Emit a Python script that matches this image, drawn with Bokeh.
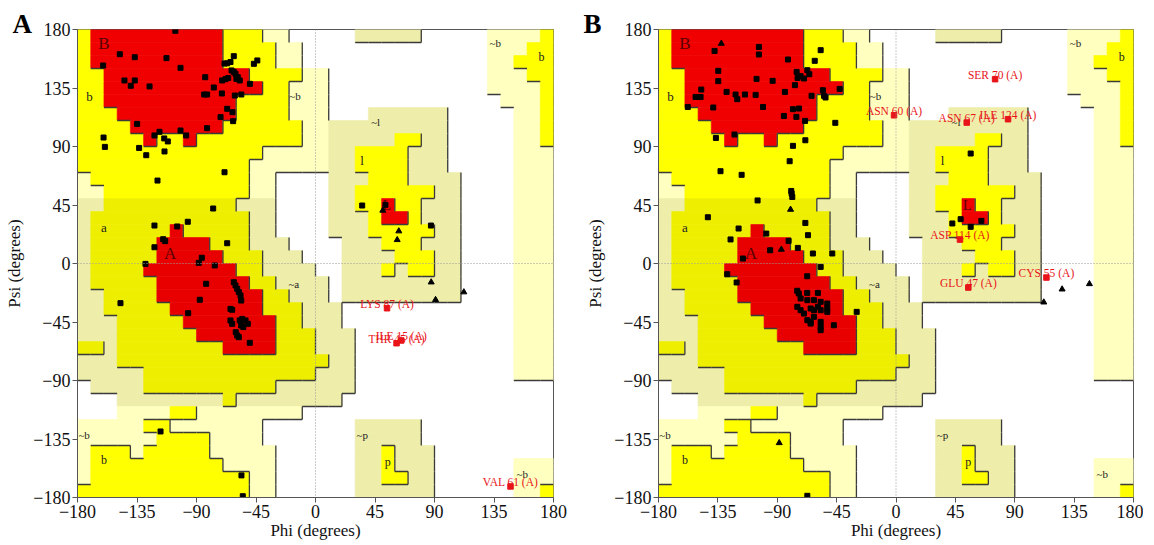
import math
from bokeh.plotting import figure
from bokeh.layouts import row
from bokeh.models import Range1d, FixedTicker, Span, ColumnDataSource
from bokeh.core.properties import value
from bokeh.embed import file_html
from bokeh.resources import INLINE

# ---------------- data ----------------
AXIS_TICKS = [-180, -135, -90, -45, 0, 45, 90, 135, 180]

# PROCHECK region map, 10-degree cells; rows from psi 180 down to -180, columns phi -180 .. 180
REGION_MAP = [
    "yRRRRRRRRRRyyypp.....qqqqq.....ppppy",
    "yRRRRRRRRRRyyyypp..............pppyy",
    "yRRRRRRRRRRyyyypp..............ppyyy",
    "yyRRRRRRRRRRRyyyypp............pppyy",
    "yyRRRRRRRRRRRRyyppp............ppppy",
    "yyRRRRRRRRRRyyyyppp.............pppy",
    "yyyRRRRRRRRRyyyyppp...qqqqqq.....ppy",
    "yyyyRRRRRRRyyyyyyppqqqqqqqqq.....ppy",
    "yyyyyRyyRyyyyyyyyppqqqqqyyqq.....ppy",
    "yyyyyyyyyyyyyypppppqqyyyyqqq.....ppp",
    "yyyyyyyyyyyyyppppppqqyyyyqqq.....ppp",
    "pyyyyyyyyyyyypp....qqqyyyqqqq....ppp",
    "ppyyyyyyyyyyypp....qqyyyyyyqq....ppp",
    "qqzzzzzzzzzzqqq....qqyyRyyqqq....ppp",
    "qzzzzzzzzzzzzqq....qqqyRRyqqq....ppp",
    "qzzzzzzSzzzzzqq....qqqyyyyyqq....ppp",
    "qzzzzzSSSSzzzqqq....qqqyyyqqq....ppp",
    "qzzzzzSSSSSzzzqqq...qqqqyyyqq....ppp",
    "qzzzzSSSSSSSzzqqqq..qqqyqyyqq....ppp",
    "qzzzzzSSSSSSSzzqqqq.qqqqqqqqq....ppp",
    "qqzzzzSSSSSSSSzzqqq.qqqqqqqqq....ppp",
    "qqzzzzzSSSSSSSzzzqqq.............ppp",
    "qqqzzzzzSSSSSSSzzqqq.............ppp",
    "qqqzzzzzzSSSSSSzzzqqq............ppp",
    "zzqzzzzzzzzSSSSzzzqqq............ppp",
    "qqqzzzzzzzzzzzzzzzzqq............ppp",
    "qqqqqzzzzzzzzzzzzzqqq............ppp",
    ".qqqqzzzzzzzzzzqqqqqq...............",
    "...qqqqqqqqzqqqqqqqq................",
    "...ppppyypppppppp...................",
    "pppppyyppppppp.......qqqqq..........",
    "ppppppyyyypppp.......qqqqq..........",
    "pyyypyyyyyppppp......qqyqqq.........",
    "pyyyyyyyyyypppp......qqyqqq......ppp",
    "pyyyyyyyyyyyypp......qqyyqq......ppp",
    "yyyyyyyyyyyyypp......qqqqqq......ppy",
]
REGION_COLORS = {"p": "#FFFFC0", "q": "#EEEEAA", "y": "#FFFF00", "z": "#EEEE00",
                 "R": "#F00000", "S": "#E80000"}
REGION_LEVEL = {".": 0, "p": 1, "q": 1, "y": 2, "z": 2, "R": 3, "S": 3}

REGION_LABELS = ["B", "b", "~b", "~b", "b", "~l", "l", "L", "a", "A", "~a", "~b", "b", "~p", "p", "~b"]
REGION_LABEL_PHI = [-160, -171, -15.5, 136, 171, 45.5, 35.3, 54, -160, -110, -16.4, -175, -160, 35.3, 54.7, 156.3]
REGION_LABEL_PSI = [169, 128.5, 129, 169.7, 159, 108.8, 79.2, 45, 28, 7.5, -16.1, -131.8, -151.5, -132.3, -152.8, -161.8]
REGION_LABEL_SIZE = ["17px", "13px", "11px", "11px", "12px", "11px", "13px", "14px", "13px", "17px",
                     "11px", "11px", "12px", "11px", "12px", "11px"]
REGION_LABEL_COLOR = ["#5a0000", "#222222", "#222222", "#222222", "#222222", "#222222", "#222222", "#5a0000",
                      "#222222", "#5a0000", "#222222", "#222222", "#222222", "#222222", "#222222", "#222222"]

# Panel A residues
A_RES_PHI = [-106, -160.6, -148, -136.7, -112.7, -102.1, -144.5, -136.7, -139.7, -125.5, -83.4, -76.9, -84.2,
             -82, -70.8, -70.6, -68.1, -66, -68.8, -66.8, -64.3, -61.8, -63.5, -61.8, -60.5, -58.8, -59.8,
             -57.3, -61, -56.1, -49.6, -46.6, -44, -66.8, -62.8, -71.8, -62.3, -134.9, -82, -102.1, -118,
             -121.8, -114.4, -111.7, -97.8, -160.3, -159.3, -133.4, -128, -114.2, -68.8, -119.5, -77.4,
             -121.8, -104.6, -96.6, -121.8, -115.2, -113.7, -66.8, -86, -88.3, -128.6, -76.2, -82.7, -61.8,
             -60.5, -59.2, -58, -56.7, -56.2, -87.5, -147.5, -64.3, -63, -96.3, -64.3, -63, -57.3, -56.2,
             -55.4, -52.9, -51.2, -54.6, -60.3, -59.2, -58, -49.7, -117.2, -56, -55, 35.3, 87.3, 52.9]
A_RES_PSI = [179, 152.3, 161, 158.7, 158, 150.5, 140.8, 140.8, 136.7, 136.2, 143.3, 135.4, 130,
             130, 130.8, 140.8, 141.8, 142.6, 153.8, 154, 155, 159.5, 148.5, 147.4, 145.9, 143.3, 142,
             140.8, 129.2, 130, 138.2, 153.6, 156.2, 119, 116.4, 112.6, 109.5, 107.4, 104.1, 102.3, 101.3,
             98.5, 96.2, 93.9, 98.5, 96.9, 89.7, 88.9, 83.3, 86.2, 70.2, 63.8, 42.3,
             29.2, 28.5, 32.1, 12.5, 18.7, 17.2, 15.6, 4.4, 0.5, -0.3, -1.5, -15.6, -14.4,
             -16.9, -19.5, -22, -24.6, -28.5, -27.9, -30.5, -34.9, -35.6, -38.2, -43.8, -46.4, -43.8, -47.7,
             -42.6, -43.8, -46.4, -48.9, -52.8, -55.4, -56.7, -61, -129.2, -163, -179, 44.6, 29.2, 45.1]
A_GLY_PHI = [50.9, 63, 61.8, 87.5, 112.2, 90.8]
A_GLY_PSI = [40.8, 24.9, 18.2, -14.4, -22, -27.9]
A_OUT_NAMES = ["LYS 87 (A)", "THR 45 (A)", "ILE 15 (A)", "VAL 61 (A)"]
A_OUT_PHI = [54.1, 61.3, 64.8, 147.5]
A_OUT_PSI = [-34.4, -61.3, -59.2, -171.5]

# Panel B residues
B_RES_PHI = [-137.5, -103.9, -103.9, -81.9, -57.1, -61.6, -134.7, -134.7, -105.7, -93.5,
             -75.3, -72.3, -67.2, -65.7, -69.7, -74.6,
             -147.6, -151.9, -148.1, -157.8, -128.4, -121.6, -120.3, -114.5, -106.4, -100.8, -138.5, -84.2,
             -76.6, -64, -55.4, -54.6, -53.4, -42.7,
             -85, -78.1, -73.5, -75.5, -68.9, -46, -136.5, -122.4, -78.1, -68.7, -80.6, -133, -117, -79.4,
             -79.1, -78.6, -104.9, -142.6, -68.7, -119.3, -98.3, -66.7, -125.4, -81.4, -74.4, -95.4, -63,
             -48.3, -116, -57.1, -127.9, -120.8, -67.3, -74.9, -73.7, -67.3, -59.2,
             -72.3, -67.2, -62.2, -57.1, -52.1, -74.8, -72.3, -69.8, -64.7, -62.2, -59.2, -57.1, -52.1,
             -67.2, -64.7, -62.2, -57.1, -64.7, -57.1, -57.1, -52.1,
             -29.8, -47.1, -67.2, 56.6, 42.7, 49, 56.6, 64.7]
B_RES_PSI = [163.5, 166.6, 160.8, 156.9, 164.1, 155.9, 148.2, 140.3, 142, 140.5,
             147.4, 144.1, 148.7, 145.6, 142.3, 142.7,
             133.8, 128.1, 128.1, 120.4, 132, 130, 126.4, 130, 129.7, 120.4, 120, 132,
             137.2, 129, 133.3, 129, 127.7, 134.3,
             113.5, 118.7, 119.2, 112.8, 109.7, 108.2, 96.6, 99.2, 90.5, 94.8, 78.7, 71, 68.2, 55.8,
             53.8, 51.2, 48.5, 35.6, 31.2, 26.9, 23, 21.8, 18.5, 17.4, 12, 10.2, 7.7,
             7.7, 3.8, -2.6, -8.2, -14.6, -9.8, -21, -23, -22.6, -22.6,
             -26.9, -28.2, -28.2, -29.5, -30.8, -33.3, -35.9, -38.5, -34.6, -35.9, -33.3, -35.9, -37.2,
             -43.6, -44.9, -41, -44.9, -46.2, -48.7, -51.3, -34.6,
             -37.2, -47.5, -178.7, 84.6, 30.8, 34.1, 28.2, 32.8]
B_GLY_PHI = [-132.4, -79.9, -86.9, -88.5, 112, 125.9, 146.6]
B_GLY_PSI = [169.2, 41.5, 10.8, -138, -29.8, -19.8, -15.7]
B_OUT_NAMES = ["SER 70 (A)", "ASN 60 (A)", "ASN 67 (A)", "ILE 124 (A)", "ASP 114 (A)", "GLU 47 (A)", "CYS 55 (A)"]
B_OUT_PHI = [75.1, -1.5, 53.6, 84.9, 48.5, 54.8, 114]
B_OUT_PSI = [141.8, 114, 108.4, 111, 18.4, -18.5, -10.8]

SERIF = "Liberation Serif"


def region_geometry():
    grid = [(r + "." * 36)[:36] for r in REGION_MAP]
    L, R, T, B, C = [], [], [], [], []
    for i, rowstr in enumerate(grid):
        top = 180 - 10 * i
        j = 0
        while j < 36:
            ch = rowstr[j]
            k = j
            while k + 1 < 36 and rowstr[k + 1] == ch:
                k += 1
            if ch in REGION_COLORS:
                L.append(-180 + 10 * j)
                R.append(-170 + 10 * k)
                T.append(top)
                B.append(top - 10)
                C.append(REGION_COLORS[ch])
            j = k + 1
    xs, ys = [], []
    lev = [[REGION_LEVEL[ch] for ch in r] for r in grid]
    for i in range(36):
        top = 180 - 10 * i
        for j in range(35):
            if lev[i][j] > lev[i][j + 1]:
                x = -170 + 10 * j
                xs.append([x, x]); ys.append([top - 10, top])
    for i in range(35):
        y = 170 - 10 * i
        for j in range(36):
            up, lo = lev[i][j], lev[i + 1][j]
            if up > lo or (i >= 29 and up == 1 and lo == 2):
                x0 = -180 + 10 * j
                xs.append([x0, x0 + 10]); ys.append([y, y])
    return L, R, T, B, C, xs, ys


def make_panel(width, bl, br, letter, letter_offset,
               res_phi, res_psi, gly_phi, gly_psi, out_phi, out_psi, out_names):
    p = figure(width=width, height=545, x_range=Range1d(-180, 180), y_range=Range1d(-180, 180),
               output_backend="svg", toolbar_location=None,
               min_border_left=bl, min_border_right=br, min_border_top=29, min_border_bottom=48)
    p.grid.visible = False
    p.background_fill_color = "white"
    p.border_fill_color = "white"
    p.outline_line_color = "#555555"
    p.outline_line_width = 1

    # panel letter as the figure title, shifted into the left margin
    p.title.text = letter
    p.title.align = "left"
    p.title.offset = letter_offset
    p.title.standoff = -18
    p.title.text_font = SERIF
    p.title.text_font_size = "27px"
    p.title.text_font_style = "bold"
    p.title.text_color = "black"

    L, R, T, B, C, xs, ys = region_geometry()
    p.quad(left=L, right=R, top=T, bottom=B, fill_color=C, line_color=C, line_width=0.6)
    p.multi_line(xs, ys, line_color="#3a3a3a", line_width=1.3)

    p.add_layout(Span(location=0, dimension="height", line_color="#999999", line_dash="1 2", line_width=1))
    p.add_layout(Span(location=0, dimension="width", line_color="#999999", line_dash="1 2", line_width=1))

    src = ColumnDataSource(dict(x=REGION_LABEL_PHI, y=REGION_LABEL_PSI, t=REGION_LABELS,
                                s=REGION_LABEL_SIZE, c=REGION_LABEL_COLOR))
    p.text(x="x", y="y", text="t", text_font_size="s", text_color="c", source=src,
           text_font=value(SERIF), text_align="center", text_baseline="middle")

    p.scatter(res_phi, res_psi, marker="square", size=5, fill_color="black", line_color="black")
    p.scatter(gly_phi, gly_psi, marker="triangle", size=6, fill_color="black", line_color="black")
    p.scatter(out_phi, out_psi, marker="square", size=5.5, fill_color="#E8141A", line_color="#E8141A")
    p.text(x=out_phi, y=[v + 3.4 for v in out_psi], text=out_names, text_font=value(SERIF),
           text_font_size="11.5px", text_color="#E8141A", text_align="center", text_baseline="alphabetic")

    for ax in (p.xaxis[0], p.yaxis[0]):
        ax.ticker = FixedTicker(ticks=AXIS_TICKS)
        ax.major_label_text_font = SERIF
        ax.major_label_text_font_size = "18px"
        ax.major_label_text_color = "#111111"
        ax.major_tick_out = 5
        ax.major_tick_in = 0
        ax.minor_tick_line_color = None
        ax.axis_line_color = "#555555"
        ax.major_tick_line_color = "#555555"
        ax.major_label_standoff = 2
        ax.axis_label_text_font = SERIF
        ax.axis_label_text_font_size = "17px"
        ax.axis_label_text_font_style = "normal"
        ax.axis_label_text_color = "#111111"
    p.xaxis[0].axis_label = "Phi (degrees)"
    p.xaxis[0].axis_label_standoff = 0
    p.yaxis[0].axis_label = "Psi (degrees)"
    p.yaxis[0].axis_label_standoff = 6
    return p


pA = make_panel(575, 77, 22, "A", -65,
                A_RES_PHI, A_RES_PSI, A_GLY_PHI, A_GLY_PSI, A_OUT_PHI, A_OUT_PSI, A_OUT_NAMES)
pB = make_panel(568, 83, 10, "B", -75,
                B_RES_PHI, B_RES_PSI, B_GLY_PHI, B_GLY_PSI, B_OUT_PHI, B_OUT_PSI, B_OUT_NAMES)

layout = row(pA, pB)
open("out.html", "w").write(file_html(layout, INLINE))
